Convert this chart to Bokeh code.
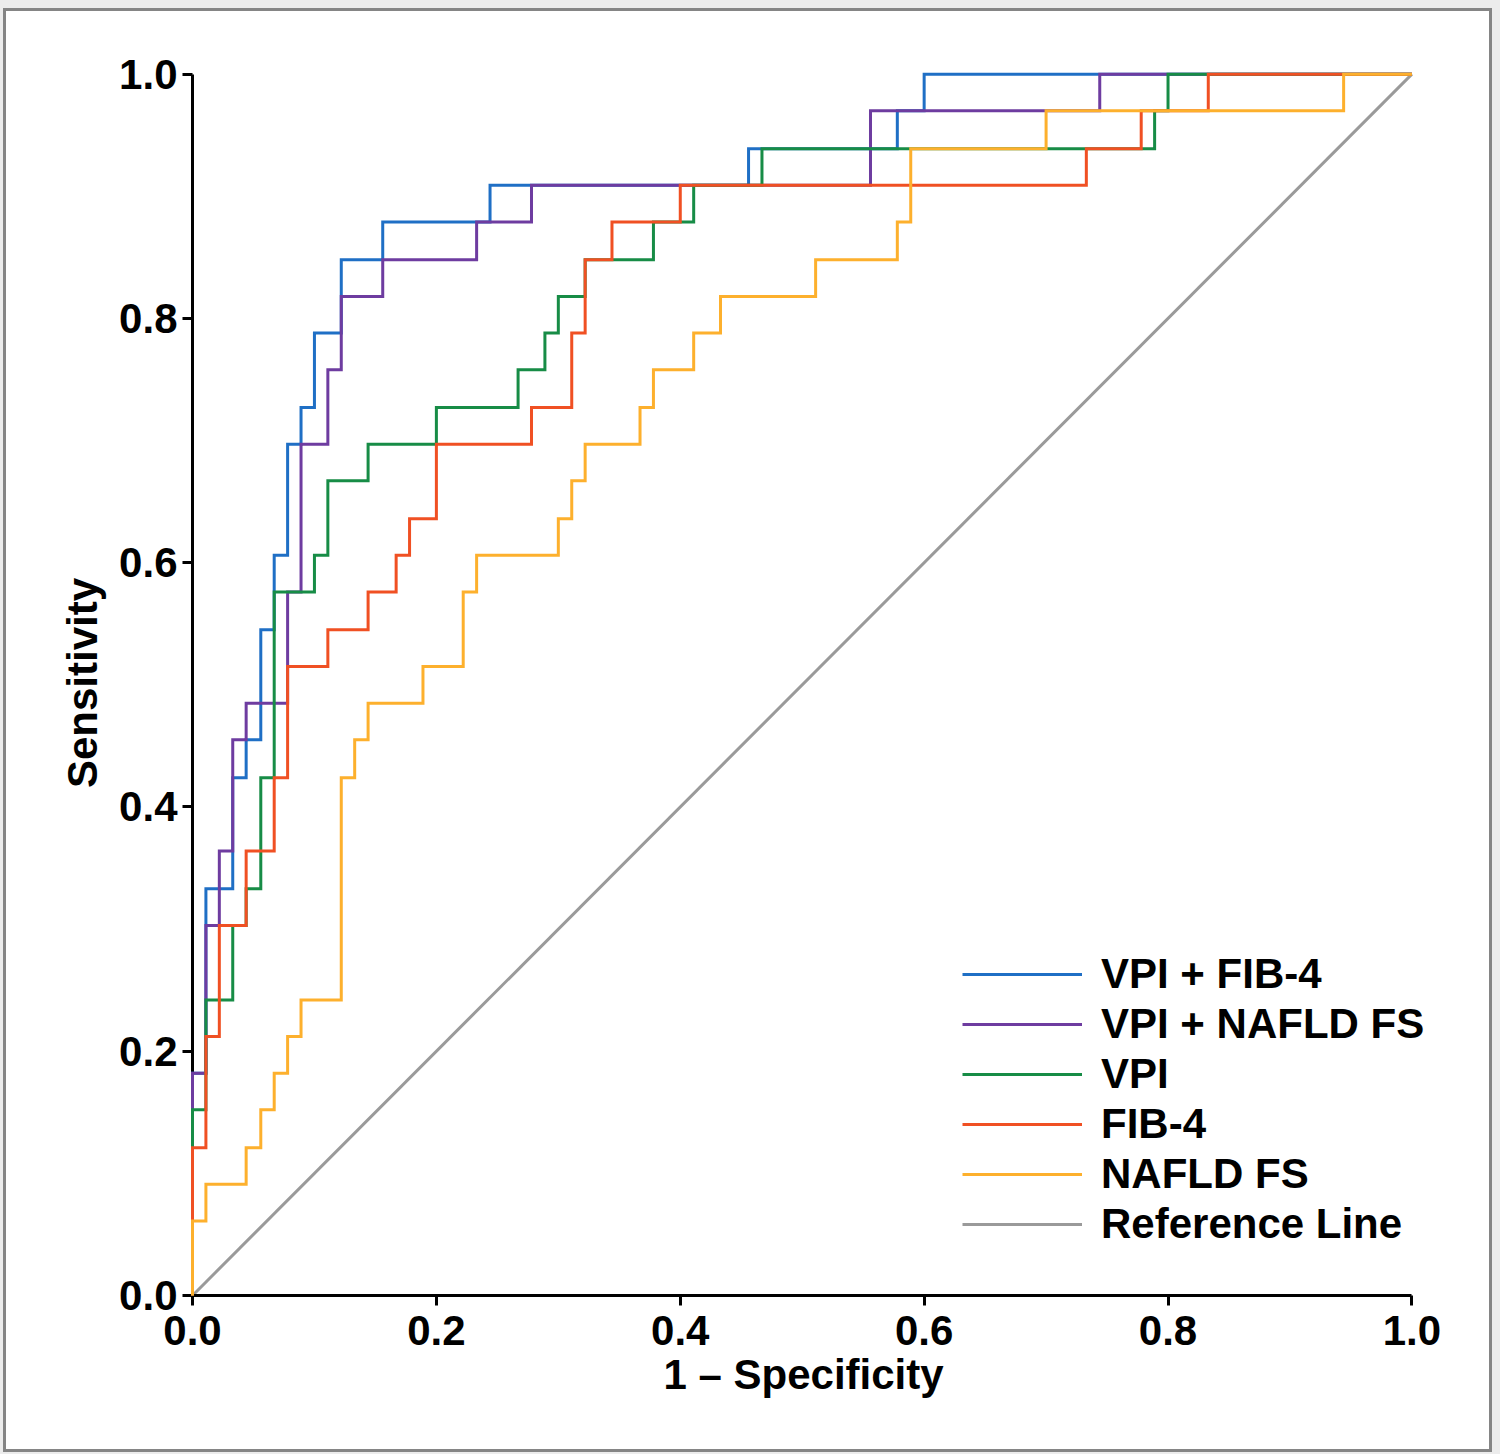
from bokeh.plotting import figure
from bokeh.models import FixedTicker, PrintfTickFormatter, Legend, LegendItem, Range1d, Title
from bokeh.embed import file_html
from bokeh.resources import INLINE

# ROC operating points (1 - specificity, sensitivity), staircase corners
series_names = ["VPI + FIB-4", "VPI + NAFLD FS", "VPI", "FIB-4", "NAFLD FS"]

vpi_fib4_fpr = [0, 0, 0.011, 0.033, 0.044, 0.056, 0.067, 0.078, 0.089, 0.1, 0.122, 0.156, 0.244, 0.456, 0.578, 0.6, 1.0]
vpi_fib4_tpr = [0, 0.182, 0.333, 0.424, 0.455, 0.545, 0.606, 0.697, 0.727, 0.788, 0.848, 0.879, 0.909, 0.939, 0.970, 1.0, 1.0]

vpi_nafld_fpr = [0, 0, 0.011, 0.022, 0.033, 0.044, 0.078, 0.089, 0.111, 0.122, 0.156, 0.233, 0.278, 0.556, 0.744, 1.0]
vpi_nafld_tpr = [0, 0.182, 0.303, 0.364, 0.455, 0.485, 0.576, 0.697, 0.758, 0.818, 0.848, 0.879, 0.909, 0.970, 1.0, 1.0]

vpi_fpr = [0, 0, 0.011, 0.033, 0.044, 0.056, 0.067, 0.1, 0.111, 0.144, 0.2, 0.267, 0.289, 0.3, 0.322, 0.378, 0.411, 0.467, 0.789, 0.8, 1.0]
vpi_tpr = [0, 0.152, 0.242, 0.303, 0.333, 0.424, 0.576, 0.606, 0.667, 0.697, 0.727, 0.758, 0.788, 0.818, 0.848, 0.879, 0.909, 0.939, 0.970, 1.0, 1.0]

fib4_fpr = [0, 0, 0.011, 0.022, 0.044, 0.067, 0.078, 0.111, 0.144, 0.167, 0.178, 0.2, 0.278, 0.311, 0.322, 0.344, 0.4, 0.733, 0.778, 0.833, 1.0]
fib4_tpr = [0, 0.121, 0.212, 0.303, 0.364, 0.424, 0.515, 0.545, 0.576, 0.606, 0.636, 0.697, 0.727, 0.788, 0.848, 0.879, 0.909, 0.939, 0.970, 1.0, 1.0]

nafld_fpr = [0, 0, 0.011, 0.044, 0.056, 0.067, 0.078, 0.089, 0.122, 0.133, 0.144, 0.189, 0.222, 0.233, 0.3, 0.311, 0.322, 0.367, 0.378, 0.411, 0.433, 0.511, 0.578, 0.589, 0.7, 0.944, 1.0]
nafld_tpr = [0, 0.061, 0.091, 0.121, 0.152, 0.182, 0.212, 0.242, 0.424, 0.455, 0.485, 0.515, 0.576, 0.606, 0.636, 0.667, 0.697, 0.727, 0.758, 0.788, 0.818, 0.848, 0.879, 0.939, 0.970, 1.0, 1.0]

ref_x = [0, 1]
ref_y = [0, 1]

ticks = [0.0, 0.2, 0.4, 0.6, 0.8, 1.0]
x_title = "1 \u2013 Specificity"
y_title = "Sensitivity"
colors = ["#1f6fc5", "#6e3ca0", "#178c46", "#f05023", "#fdb02d"]
ref_color = "#9a9a9a"

FONT = "Liberation Sans"


def staircase(xs, ys):
    sx, sy = [xs[0]], [ys[0]]
    for i in range(1, len(xs)):
        sx += [xs[i], xs[i]]
        sy += [ys[i - 1], ys[i]]
    return sx, sy


W, H = 1500, 1454
p = figure(width=W, height=H, output_backend="svg", toolbar_location=None,
           x_range=Range1d(0, 1.03), y_range=Range1d(0, 1.003),
           min_border_left=192, min_border_right=52, min_border_top=70, min_border_bottom=159)
p.background_fill_color = "white"
p.border_fill_alpha = 0
p.outline_line_color = None
p.xgrid.visible = False
p.ygrid.visible = False
p.styles = {
    "background-color": "white",
    "box-shadow": ("inset 3px 8px 0 0 #ececec, inset -8px -2px 0 0 #ececec, "
                   "inset 6px 11px 0 0 #858585, inset -11px -5px 0 0 #858585"),
}

data = [(vpi_fib4_fpr, vpi_fib4_tpr), (vpi_nafld_fpr, vpi_nafld_tpr), (vpi_fpr, vpi_tpr),
        (fib4_fpr, fib4_tpr), (nafld_fpr, nafld_tpr)]
items = []
for (xs, ys), name, c in zip(data, series_names, colors):
    sx, sy = staircase(xs, ys)
    r = p.line(sx, sy, line_color=c, line_width=3, line_join="miter", level="annotation")
    items.append(LegendItem(label=name, renderers=[r]))
rr = p.line(ref_x, ref_y, line_color=ref_color, line_width=3)
items.append(LegendItem(label="Reference Line", renderers=[rr]))

legend = Legend(items=items, location=(770, 46))
legend.glyph_width = 120
legend.glyph_height = 50
legend.label_height = 50
legend.spacing = 0
legend.padding = 0
legend.margin = 0
legend.label_standoff = 19
legend.border_line_color = None
legend.background_fill_alpha = 0
legend.label_text_font = FONT
legend.label_text_font_style = "bold"
legend.label_text_font_size = "42px"
legend.label_text_color = "black"
p.add_layout(legend, "center")

for ax in (p.xaxis[0], p.yaxis[0]):
    ax.ticker = FixedTicker(ticks=ticks)
    ax.formatter = PrintfTickFormatter(format="%.1f")
    ax.bounds = (0, 1)
    ax.axis_line_width = 3
    ax.axis_line_color = "black"
    ax.major_tick_line_width = 3
    ax.major_tick_line_color = "black"
    ax.major_tick_out = 10
    ax.major_tick_in = 0
    ax.minor_tick_line_color = None
    ax.major_label_text_font = FONT
    ax.major_label_text_font_style = "bold"
    ax.major_label_text_font_size = "42px"
    ax.major_label_text_color = "black"
    ax.axis_label_text_font = FONT
    ax.axis_label_text_font_style = "bold"
    ax.axis_label_text_font_size = "42px"
    ax.axis_label_text_color = "black"

p.yaxis.axis_label = y_title
p.xaxis.major_label_standoff = 10
p.yaxis.major_label_standoff = 5
p.yaxis.axis_label_standoff = 10

xt = Title(text=x_title, align="left", offset=471, standoff=3,
           text_font=FONT, text_font_style="bold", text_font_size="42px", text_color="black")
p.add_layout(xt, "below")

open("out.html", "w").write(file_html(p, INLINE))
